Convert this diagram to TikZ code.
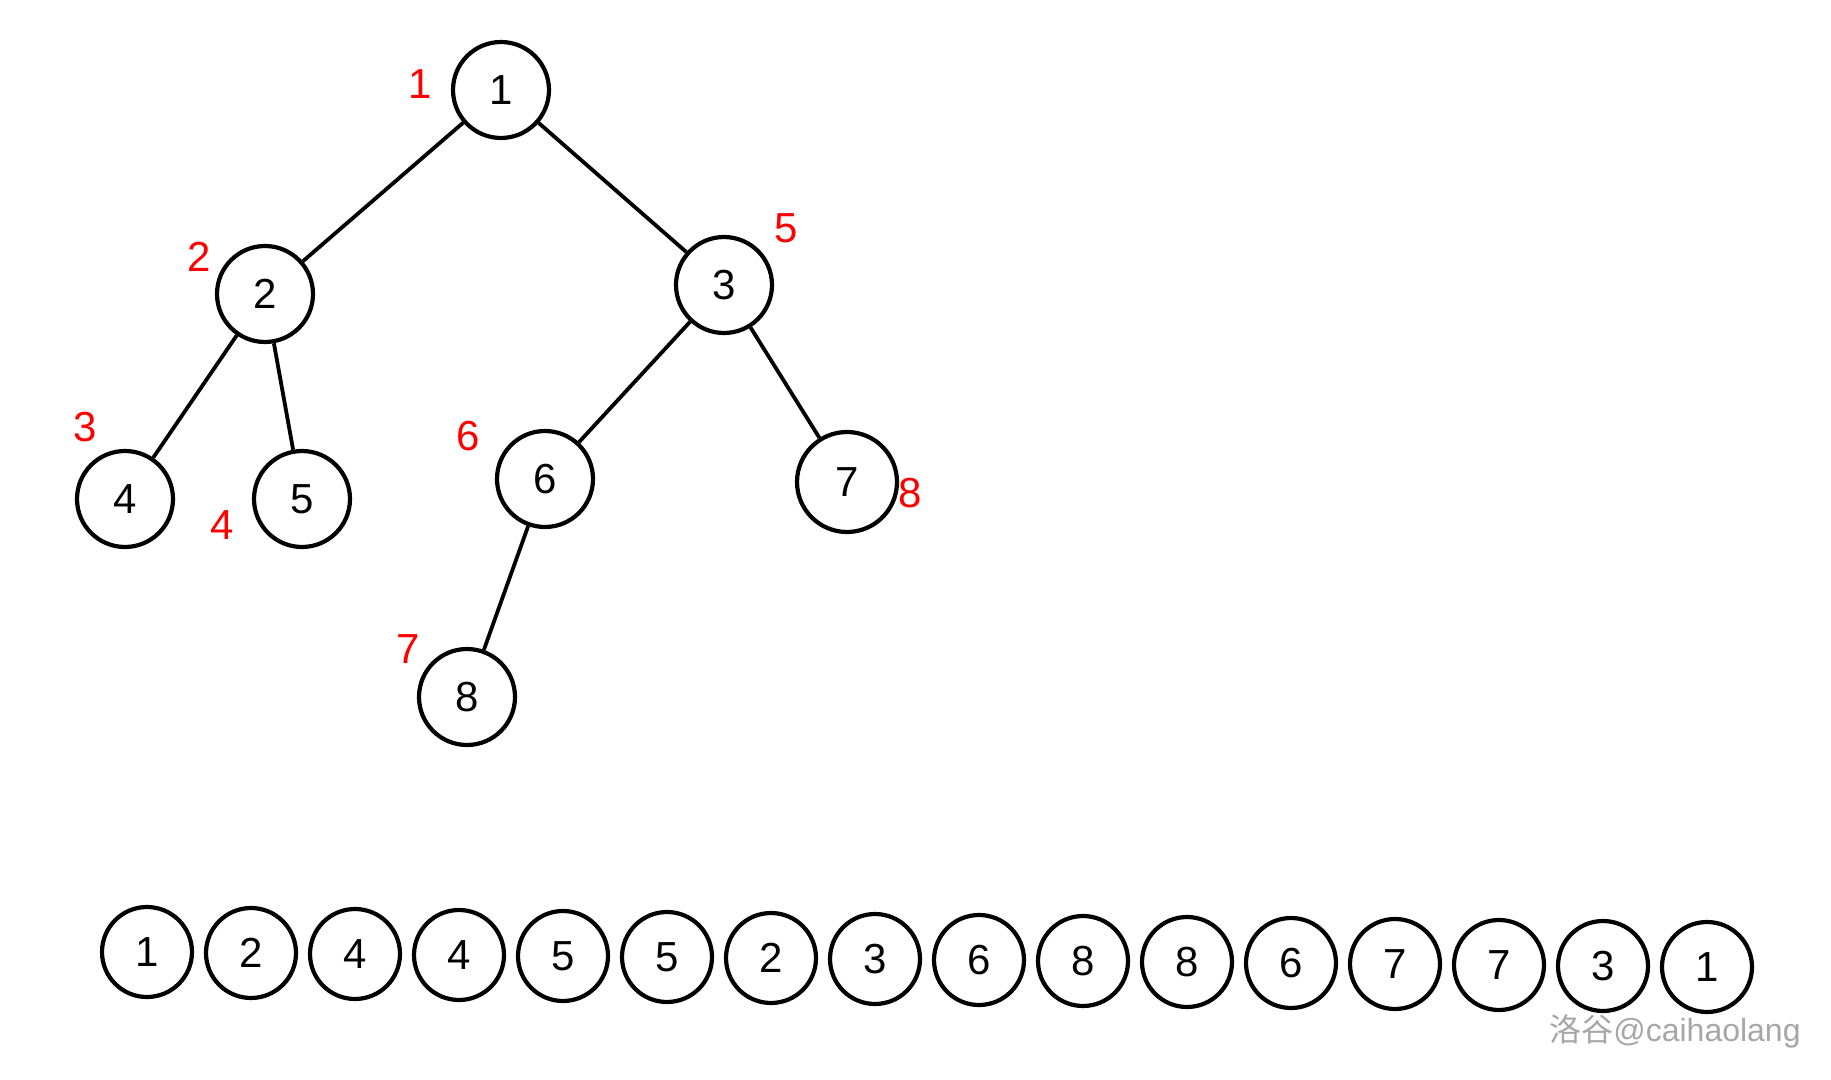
\documentclass[tikz,border=0pt]{standalone}
\usepackage{fontspec}
\setmainfont{Liberation Sans}
\newfontfamily\cjkfont{Noto Sans CJK SC}
\usetikzlibrary{positioning}

\begin{document}
\begin{tikzpicture}[
   x=0.5pt, y=-0.5pt,
   tnode/.style={draw, circle, line width=2.1pt, minimum size=48pt, inner sep=0pt, font=\fontsize{21}{21}\selectfont},
   anode/.style={tnode, minimum size=45pt},
   idx/.style={text=red, font=\fontsize{21}{21}\selectfont, inner sep=0pt},
   edge/.style={line width=1.9pt}
]
\useasboundingbox (0,0) rectangle (1831,1080);
% tree
\node[tnode] (n1) at (501,90) {1};
\node[tnode] (n2) at (265,294) {2};
\node[tnode] (n3) at (724,285) {3};
\node[tnode] (n4) at (125,499) {4};
\node[tnode] (n5) at (302,499) {5};
\node[tnode] (n6) at (545,479) {6};
\node[tnode, minimum size=50pt] (n7) at (847,482) {7};
\node[tnode] (n8) at (467,697) {8};

\draw[edge] (n1)--(n2); \draw[edge] (n1)--(n3);
\draw[edge] (n2)--(n4); \draw[edge] (n2)--(n5);
\draw[edge] (n3)--(n6); \draw[edge] (n3)--(n7);
\draw[edge] (n6)--(n8);

% visit order
\node[idx] (o1) at (420,84) {1};
\node[idx] (o2) at (199,257) {2};
\node[idx] (o3) at (85,427) {3};
\node[idx] (o4) at (222,525) {4};
\node[idx] (o5) at (786,228) {5};
\node[idx] (o6) at (468,436) {6};
\node[idx] (o7) at (408,649) {7};
\node[idx] (o8) at (910,493) {8};

% sequence
\node[anode] (s1) at (147,952) {1};
\node[anode] (s2) at (251,953) {2};
\node[anode] (s3) at (355,954) {4};
\node[anode] (s4) at (459,955) {4};
\node[anode] (s5) at (563,956) {5};
\node[anode] (s6) at (667,957) {5};
\node[anode] (s7) at (771,958) {2};
\node[anode] (s8) at (875,959) {3};
\node[anode] (s9) at (979,960) {6};
\node[anode] (s10) at (1083,961) {8};
\node[anode] (s11) at (1187,962) {8};
\node[anode] (s12) at (1291,963) {6};
\node[anode] (s13) at (1395,964) {7};
\node[anode] (s14) at (1499,965) {7};
\node[anode] (s15) at (1603,966) {3};
\node[anode] (s16) at (1707,967) {1};

\node[text=black!35, font=\fontsize{16}{16}\selectfont, anchor=east, inner sep=0pt] (wm) at (1801,1031) {{\cjkfont 洛谷}@caihaolang};
\end{tikzpicture}
\end{document}
